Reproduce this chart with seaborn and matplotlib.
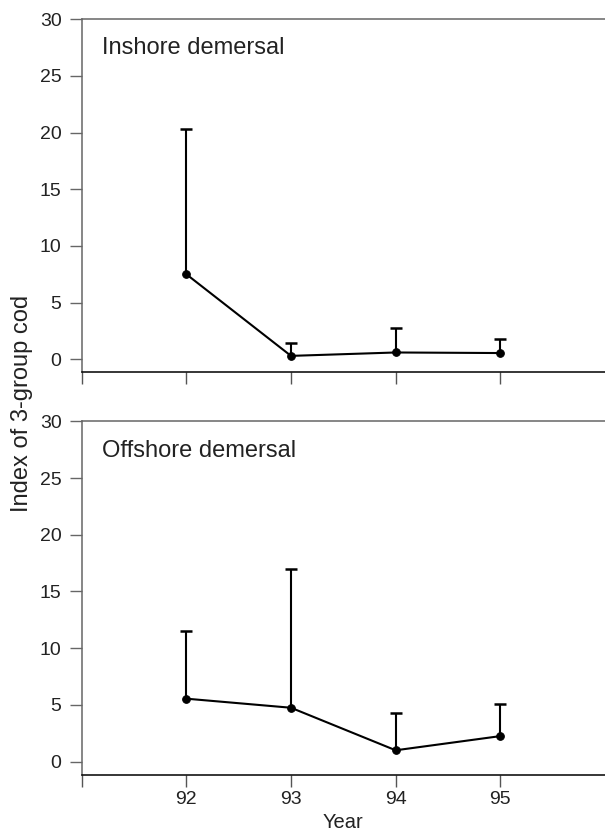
import numpy as np
import pandas as pd
import matplotlib
matplotlib.use('Agg')
import matplotlib.pyplot as plt
import seaborn as sns

# %% data
years = [92, 93, 94, 95]
inshore = [7.5, 0.3, 0.6, 0.55]
inshore_upper = [20.3, 1.4, 2.8, 1.8]
offshore = [5.55, 4.75, 1.0, 2.25]
offshore_upper = [11.55, 17.0, 4.3, 5.05]
panel_names = ['Inshore demersal', 'Offshore demersal']
xtick_pos = [91, 92, 93, 94, 95]
xtick_labels = ['', '92', '93', '94', '95']
ytick_pos = [0, 5, 10, 15, 20, 25, 30]

# %% style
sns.set_style('ticks')
plt.rcParams['font.family'] = ['Liberation Sans', 'DejaVu Sans']
plt.rcParams['text.color'] = '#222222'
plt.rcParams['axes.labelcolor'] = '#222222'

fig = plt.figure(figsize=(6.05, 8.32), dpi=100)
ax_top = fig.add_axes([0.135, 0.5525, 0.865, 0.4245])
ax_bot = fig.add_axes([0.135, 0.0689, 0.865, 0.4247])

panels = [(ax_top, inshore, inshore_upper), (ax_bot, offshore, offshore_upper)]
for i, (ax, vals, upper) in enumerate(panels):
    df = pd.DataFrame({'year': years, 'value': vals, 'upper': upper})
    # one-sided error bars: stem from the point up to the cap
    ax.vlines(df['year'], df['value'], df['upper'], color='black',
              linewidth=1.5, zorder=2)
    ax.plot(df['year'], df['upper'], ls='none', marker='_', markersize=8,
            markeredgewidth=1.8, color='black', zorder=2)
    sns.lineplot(data=df, x='year', y='value', ax=ax, color='black',
                 linewidth=1.5, marker='o', markersize=5.5,
                 markeredgecolor='black', zorder=3)
    ax.set_xlim(91, 96)
    ax.set_ylim(-1.15, 30)
    ax.set_yticks(ytick_pos)
    ax.set_xticks(xtick_pos)
    if i == 0:
        ax.set_xticklabels([''] * len(xtick_pos))
    else:
        ax.set_xticklabels(xtick_labels)
    ax.set_xlabel('Year' if i == 1 else '', fontsize=14.5, labelpad=3)
    ax.set_ylabel('')
    ax.tick_params(axis='y', length=8.5, width=1, color='#666666',
                   labelsize=14, pad=6, labelcolor='#222222')
    ax.tick_params(axis='x', length=8.5, width=1, color='#555555',
                   labelsize=14, pad=3.5, labelcolor='#222222')
    ax.spines['right'].set_visible(False)
    ax.spines['left'].set_color('#666666')
    ax.spines['top'].set_color('#666666')
    ax.spines['bottom'].set_color('black')
    for s in ['left', 'top', 'bottom']:
        ax.spines[s].set_linewidth(1.1)
    ax.text(0.0394, 0.90, panel_names[i], transform=ax.transAxes,
            fontsize=17, va='baseline', ha='left')

fig.text(0.036, 0.515, 'Index of 3-group cod', rotation=90,
         fontsize=17, va='center', ha='center')

fig.savefig('out.png', dpi=100)
